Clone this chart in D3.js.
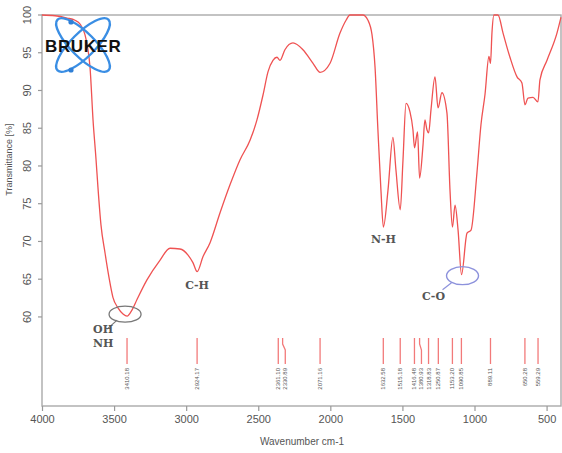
<!DOCTYPE html>
<html>
<meta charset="utf-8">
<head>
<title>FTIR spectrum</title>
<style>
body { margin: 0; background: #fff; }
.axis text { font: 11px "Liberation Sans Narrow", "Arial Narrow", "Liberation Sans", sans-serif; fill: #555; }
.axis path, .axis line { fill: none; stroke: #999; stroke-width: 1.2; }
.note { font: bold 11px "DejaVu Serif", "Liberation Serif", serif; fill: #555; }
</style>
</head>
<body>
<script src="https://cdn.jsdelivr.net/npm/d3@7/dist/d3.min.js"></script>
<script>

// spectrum (cm-1, %T)
var wavenumber = [4000, 3910, 3827, 3771, 3736, 3702, 3681, 3667, 3646, 3625, 3612, 3591, 3563, 3535, 3508,
  3473, 3438, 3410, 3376, 3341, 3272, 3182, 3112, 3043, 2987, 2953, 2924, 2883, 2835, 2765, 2696, 2627,
  2557, 2509, 2467, 2432, 2398, 2370, 2349, 2315, 2259, 2190, 2120, 2071, 2002, 1933, 1891, 1864, 1774,
  1739, 1711, 1690, 1670, 1649, 1632, 1600, 1566, 1545, 1515, 1496, 1475, 1448, 1427, 1416, 1395, 1381,
  1357, 1344, 1330, 1318, 1302, 1274, 1253, 1226, 1191, 1170, 1153, 1135, 1114, 1090, 1052, 1024, 983,
  955, 927, 900, 889, 879, 865, 837, 802, 754, 705, 671, 650, 629, 594, 560, 546, 497, 428, 400];
var transmittance = [100, 99.9, 99.6, 99.3, 98.8, 97.4, 95.4, 93.1, 86.1, 80.8, 77.2, 72.2, 68.5, 65.2, 62.6,
  61.2, 60.4, 60.1, 60.9, 62.3, 64.9, 67.5, 69.1, 69.0, 68.2, 67.2, 66.0, 68.0, 69.8, 73.8, 77.5, 80.8,
  83.4, 86.1, 89.4, 92.5, 94.0, 94.4, 94.0, 95.4, 96.3, 95.4, 93.6, 92.4, 93.6, 97.6, 99.3, 100, 100,
  99.3, 97.4, 93.1, 84.8, 76.8, 71.9, 76.8, 83.8, 79.5, 74.2, 80.8, 88.3, 87.2, 84.8, 82.4, 84.5, 78.4,
  82.8, 86.1, 84.8, 84.4, 87.4, 91.8, 87.7, 89.7, 87.0, 76.8, 71.9, 74.8, 71.5, 65.6, 71.1, 71.5, 79.1,
  85.5, 89.5, 94.5, 93.6, 97.6, 100, 100, 97.6, 94.4, 91.8, 91.0, 88.1, 89.0, 89.1, 88.5, 91.4, 94.0, 97.6, 99.7];

var peakLabels = ["3410.18", "2924.17", "2361.10", "2330.89", "2071.16", "1632.58", "1515.18", "1416.48",
  "1380.93", "1318.83", "1250.87", "1153.20", "1090.85", "889.11", "650.28", "559.29"];

var xTicks = [4000, 3500, 3000, 2500, 2000, 1500, 1000, 500];
var yTicks = [60, 65, 70, 75, 80, 85, 90, 95, 100];

var bandNames = ["OH", "NH", "C-H", "N-H", "C-O"];

var margin = {top: 15, right: 1, bottom: 47, left: 42},
    width = 562 - margin.left - margin.right,
    height = 453 - margin.top - margin.bottom;

var x = d3.scaleLinear().domain([4000, 400]).range([0, width]);
var y = d3.scaleLinear().domain([48.2, 100]).range([height, 0]);

var svg = d3.select("body").append("svg")
    .attr("width", 562)
    .attr("height", 453)
  .append("g")
    .attr("transform", "translate(" + margin.left + "," + margin.top + ")");

// frame
svg.append("rect")
    .attr("width", width).attr("height", height)
    .style("fill", "none").style("stroke", "#aaa").style("stroke-width", 1.4);

var xAxis = svg.append("g")
    .attr("class", "x axis")
    .attr("transform", "translate(0," + height + ")")
    .call(d3.axisBottom(x).tickValues(xTicks).tickSize(5).tickPadding(4).tickFormat(d3.format("d")));
xAxis.select(".domain").remove();

var yAxis = svg.append("g")
    .attr("class", "y axis")
    .call(d3.axisLeft(y).tickValues(yTicks).tickSize(4).tickPadding(0));
yAxis.select(".domain").remove();
yAxis.selectAll("text")
    .attr("x", -15).attr("dy", null)
    .style("text-anchor", "middle")
    .attr("transform", function(d) { return "rotate(-90," + (-15) + "," + y(d) + ") translate(0,4)"; })
    .attr("y", function(d) { return y(d); });
yAxis.selectAll(".tick").attr("transform", function(d) { return "translate(0," + 0 + ")"; });
yAxis.selectAll(".tick line").attr("y1", function(d) { return y(d); }).attr("y2", function(d) { return y(d); });

svg.append("text")
    .attr("transform", "translate(-30," + (height * 0.37) + ") rotate(-90)")
    .style("text-anchor", "middle")
    .style("font", "9px 'Liberation Sans', sans-serif")
    .style("fill", "#555")
    .text("Transmittance [%]");

svg.append("text")
    .attr("x", 260).attr("y", height + 39)
    .style("text-anchor", "middle")
    .style("font", "10px 'Liberation Sans Narrow', 'Liberation Sans', sans-serif")
    .style("fill", "#555")
    .text("Wavenumber cm-1");

// spectrum
var pts = wavenumber.map(function(w, i) { return [w, transmittance[i]]; });
var line = d3.line()
    .x(function(d) { return x(d[0]); })
    .y(function(d) { return y(d[1]); })
    .curve(d3.curveMonotoneX);

svg.append("path")
    .datum(pts)
    .attr("d", line)
    .style("fill", "none")
    .style("stroke", "#ef5252")
    .style("stroke-width", 1.3);

// peak picks: lines + rotated labels, spread apart when crowded
var peaks = peakLabels.map(function(s) { return {v: +s, s: s, px: x(+s)}; });
peaks.forEach(function(p, i) {
  p.lx = p.px;
  if (i > 0 && p.lx - peaks[i - 1].lx < 7) p.lx = peaks[i - 1].lx + 7;
});
var pk = svg.append("g");
var tickTop = y(48.2) - 68, tickBot = tickTop + 26;
pk.selectAll("path")
    .data(peaks)
    .enter().append("path")
    .attr("d", function(p) {
      return "M" + p.px + "," + tickTop + "L" + p.px + "," + (tickTop + 6) +
             "L" + p.lx + "," + (tickTop + 12) + "L" + p.lx + "," + tickBot;
    })
    .style("fill", "none")
    .style("stroke", "#f27a7a")
    .style("stroke-width", 1.3);
pk.selectAll("text")
    .data(peaks)
    .enter().append("text")
    .attr("transform", function(p) { return "translate(" + (p.lx + 2) + "," + (tickBot + 4) + ") rotate(-90)"; })
    .style("text-anchor", "end")
    .style("font", "6px 'Liberation Sans', sans-serif")
    .style("fill", "#555")
    .text(function(p) { return p.s; });

// band annotations
var ohMin = [3410, 60.1], coMin = [1090, 65.6];
svg.append("ellipse")
    .attr("cx", x(ohMin[0]) - 2).attr("cy", y(ohMin[1]) - 2)
    .attr("rx", 16).attr("ry", 8)
    .style("fill", "none").style("stroke", "#777").style("stroke-width", 1.3);
svg.append("line")
    .attr("x1", x(ohMin[0]) - 10).attr("y1", y(ohMin[1]) + 4)
    .attr("x2", x(ohMin[0]) - 20).attr("y2", y(ohMin[1]) + 13)
    .style("stroke", "#777").style("stroke-width", 1.2);
svg.append("text").attr("class", "note")
    .attr("x", x(ohMin[0]) - 34).attr("y", y(ohMin[1]) + 17).text(bandNames[0]);
svg.append("text").attr("class", "note")
    .attr("x", x(ohMin[0]) - 34).attr("y", y(ohMin[1]) + 31).text(bandNames[1]);

svg.append("text").attr("class", "note")
    .attr("x", x(2924)).attr("y", y(66.0) + 17)
    .style("text-anchor", "middle").text(bandNames[2]);
svg.append("text").attr("class", "note")
    .attr("x", x(1632)).attr("y", y(71.9) + 16)
    .style("text-anchor", "middle").text(bandNames[3]);

svg.append("ellipse")
    .attr("cx", x(coMin[0]) + 1).attr("cy", y(coMin[1]) + 1)
    .attr("rx", 16).attr("ry", 9)
    .style("fill", "none").style("stroke", "#8d92dc").style("stroke-width", 1.4);
svg.append("line")
    .attr("x1", x(coMin[0]) - 10).attr("y1", y(coMin[1]) + 8)
    .attr("x2", x(coMin[0]) - 19).attr("y2", y(coMin[1]) + 15)
    .style("stroke", "#8d92dc").style("stroke-width", 1.2);
svg.append("text").attr("class", "note")
    .attr("x", x(coMin[0]) - 28).attr("y", y(coMin[1]) + 25)
    .style("text-anchor", "middle").text(bandNames[4]);

// Bruker logo
var logo = svg.append("g").attr("transform", "translate(41,30)");
[45, -45].forEach(function(a) {
  logo.append("ellipse")
      .attr("rx", 36).attr("ry", 12)
      .attr("transform", "rotate(" + a + ")")
      .style("fill", "none").style("stroke", "#3a8ee4").style("stroke-width", 2.4);
});
logo.append("circle").attr("cx", -12).attr("cy", -23).attr("r", 2.6).style("fill", "#2f7fd6");
logo.append("circle").attr("cx", -12).attr("cy", 25).attr("r", 2.6).style("fill", "#2f7fd6");
logo.append("text")
    .attr("x", -38).attr("y", 7)
    .style("font", "bold 17px 'Liberation Sans', sans-serif")
    .style("letter-spacing", "0.6px")
    .style("fill", "#111")
    .text("BRUKER");

</script>
</body>
</html>
